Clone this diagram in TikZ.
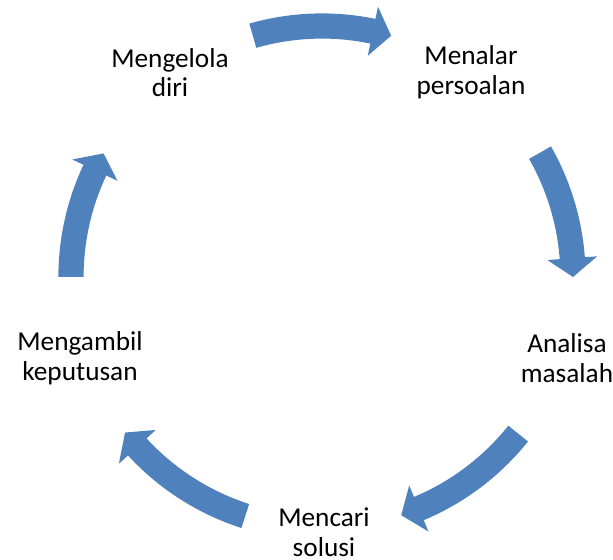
\documentclass[tikz,border=0pt]{standalone}
\usepackage{fontspec}
\setmainfont{Carlito}
\usepackage{tikz}
\usetikzlibrary{arrows.meta}

\definecolor{cycleblue}{HTML}{4F81BD}

\tikzset{
  label/.style={align=center, font=\fontsize{19.4pt}{21.3pt}\selectfont},
  cyclearrow/.style={fill=cycleblue}
}

\begin{document}
\begin{tikzpicture}

\useasboundingbox (-8.05, -7.075) rectangle (7.275, 6.925);

\node[label] (diri) at (-3.8, 5.11) {Mengelola\\diri};
\node[label] (persoalan) at (3.725, 5.11) {Menalar\\persoalan};
\node[label] (masalah) at (6.125, -2.02) {Analisa\\masalah};
\node[label] (solusi) at (0.05, -6.37) {Mencari\\solusi};
\node[label] (keputusan) at (-6.05, -2.02) {Mengambil\\keputusan};

% tail angle / tip angle
\foreach \tl/\tp in {106/74, 29.7/0, -38.6/-71.6, -107.8/-141.7, 180/150.5} {
  \pgfmathsetmacro\hb{\tp+4.3}
  \fill[cyclearrow] (\tl:6.59) arc[start angle=\tl, end angle=\hb, radius=6.59]
    -- (\hb:6.9) -- (\tp:6.275) -- (\hb:5.65) -- (\hb:5.96)
    arc[start angle=\hb, end angle=\tl, radius=5.96] -- cycle;
}

\end{tikzpicture}
\end{document}
